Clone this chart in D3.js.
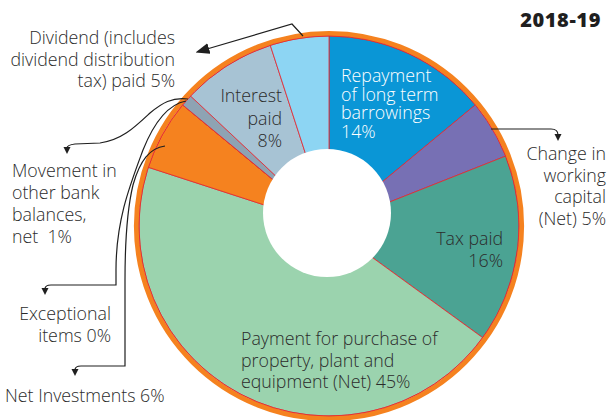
<!DOCTYPE html>
<html>
<head>
<meta charset="utf-8">
<script src="https://cdn.jsdelivr.net/npm/d3@7"></script>
<style>
  body { margin: 0; background: #fff; }
  svg { display: block; }
  text { font-family: "Open Sans", sans-serif; fill: #2b2b2b; font-weight: 300; }
</style>
</head>
<body>
<div id="chart"></div>
<script>
// data, clockwise from 12 o'clock
var categories = [
  "Repayment of long term barrowings",
  "Change in working capital (Net)",
  "Tax paid",
  "Payment for purchase of property, plant and equipment (Net)",
  "Net Investments",
  "Exceptional items",
  "Movement in other bank balances, net",
  "Interest paid",
  "Dividend (includes dividend distribution tax) paid"
];
var shares = [14, 5, 16, 45, 6, 0, 1, 8, 5];
var sliceColours = ["#0a96d6", "#7770b4", "#4ba393", "#9bd3ae", "#f5821f",
                    "#f5821f", "#8ea3b3", "#a7c3d4", "#8dd5f3"];
var title = "2018-19";

var width = 607, height = 420;
var cx = 329, cy = 226;
var outerR = 190;
// the white hole sits a little above the pie centre in the original
var hole = { dx: -2, dy: -13, r: 64 };

var svg = d3.select("#chart")
  .append("svg")
  .attr("width", width)
  .attr("height", height);

var colour = d3.scaleOrdinal()
  .domain(categories)
  .range(sliceColours);

var pie = d3.pie()
  .sort(null)
  .value(function(d, i) { return shares[i]; });

var arc = d3.arc()
  .innerRadius(30)
  .outerRadius(outerR);

var g = svg.append("g")
  .attr("transform", "translate(" + cx + "," + cy + ")");

g.selectAll(".slice")
  .data(pie(categories))
  .enter()
  .append("path")
  .attr("class", "slice")
  .attr("d", arc)
  .attr("fill", function(d) { return colour(d.data); })
  .attr("stroke", "#e3262f")
  .attr("stroke-width", 0.8);

g.append("circle")
  .attr("cx", hole.dx)
  .attr("cy", hole.dy)
  .attr("r", hole.r)
  .attr("fill", "#ffffff");

// orange rim
g.append("circle")
  .attr("r", outerR + 2.6)
  .attr("fill", "none")
  .attr("stroke", "#f5821f")
  .attr("stroke-width", 5);
g.append("circle")
  .attr("r", outerR)
  .attr("fill", "none")
  .attr("stroke", "#e3262f")
  .attr("stroke-width", 0.8);

// title
svg.append("text")
  .attr("x", 601)
  .attr("y", 27)
  .attr("text-anchor", "end")
  .style("font-size", "20px")
  .style("font-weight", "800")
  .style("letter-spacing", "0.6px")
  .style("fill", "#1f1f1f")
  .text(title);

// labels: lines, anchor point, anchor, leading, colour
var fs = 17.8;
var labels = [
  { lines: ["Repayment", "of long term", "barrowings", "14%"], x: 341, y: 82, anchor: "start", lead: 18.5, fill: "#ffffff" },
  { lines: ["Interest", "paid", "8%"], x: 282, y: 102, anchor: "end", lead: 22.5, fill: "#2b2b2b" },
  { lines: ["Tax paid", "16%"], x: 503, y: 245, anchor: "end", lead: 22, fill: "#2b2b2b" },
  { lines: ["Payment for purchase of", "property, plant and", "equipment (Net) 45%"], x: 241, y: 345, anchor: "start", lead: 21.6, fill: "#2b2b2b" },
  { lines: ["Dividend (includes", "dividend distribution", "tax) paid 5%"], x: 175, y: 44, anchor: "end", lead: 21.6, fill: "#2b2b2b" },
  { lines: ["Change in", "working", "capital", "(Net) 5%"], x: 606, y: 160, anchor: "end", lead: 21.7, fill: "#2b2b2b" },
  { lines: ["Movement in", "other bank", "balances,", "net\u00a0 1%"], x: 12, y: 176.5, anchor: "start", lead: 22, fill: "#2b2b2b" },
  { lines: ["Exceptional", "items 0%"], x: 111, y: 320, anchor: "end", lead: 21.7, fill: "#2b2b2b" },
  { lines: ["Net Investments 6%"], x: 5, y: 402, anchor: "start", lead: 21.7, fill: "#2b2b2b" }
];

labels.forEach(function(l) {
  var t = svg.append("text")
    .attr("x", l.x)
    .attr("y", l.y)
    .attr("text-anchor", l.anchor)
    .style("font-size", fs + "px")
    .style("fill", l.fill);
  t.selectAll("tspan")
    .data(l.lines)
    .enter()
    .append("tspan")
    .attr("x", l.x)
    .attr("dy", function(d, i) { return i === 0 ? 0 : l.lead; })
    .text(function(d) { return d; });
});

// leader lines
var defs = svg.append("defs");
defs.append("marker")
  .attr("id", "bigHead")
  .attr("markerUnits", "userSpaceOnUse")
  .attr("viewBox", "0 -6 14 12")
  .attr("refX", 2)
  .attr("refY", 0)
  .attr("markerWidth", 14)
  .attr("markerHeight", 12)
  .attr("orient", "auto")
  .append("path")
  .attr("d", "M0,-5.5L14,0L0,5.5Z")
  .attr("fill", "#1f1f1f");
defs.append("marker")
  .attr("id", "smallHead")
  .attr("markerUnits", "userSpaceOnUse")
  .attr("viewBox", "0 -4 7 8")
  .attr("refX", 1)
  .attr("refY", 0)
  .attr("markerWidth", 7)
  .attr("markerHeight", 8)
  .attr("orient", "auto")
  .append("path")
  .attr("d", "M0,-3.5L7,0L0,3.5Z")
  .attr("fill", "#1f1f1f");

var leaders = [
  { d: "M303,36 L292,24 L207,49", head: "bigHead" },
  { d: "M491,129 L551,129 Q558,129 558,135", head: "smallHead" },
  { d: "M188,99 C172,97 162,103 150,113 C135,127 122,140 100,143 L75,144 Q67,145 67,148", head: "smallHead" },
  { d: "M186,101 C170,104 155,120 143,150 C130,185 116,220 116,270 L116,285 L51,285 Q45,285 45,289", head: "smallHead" },
  { d: "M165,146 C150,148 140,160 133,185 C127,210 125,240 125,280 L125,366 L81,366 Q75,366 75,370", head: "smallHead" }
];

svg.selectAll(".leader")
  .data(leaders)
  .enter()
  .append("path")
  .attr("class", "leader")
  .attr("d", function(d) { return d.d; })
  .attr("fill", "none")
  .attr("stroke", "#1f1f1f")
  .attr("stroke-width", 1.2)
  .attr("marker-end", function(d) { return "url(#" + d.head + ")"; });
</script>
</body>
</html>
